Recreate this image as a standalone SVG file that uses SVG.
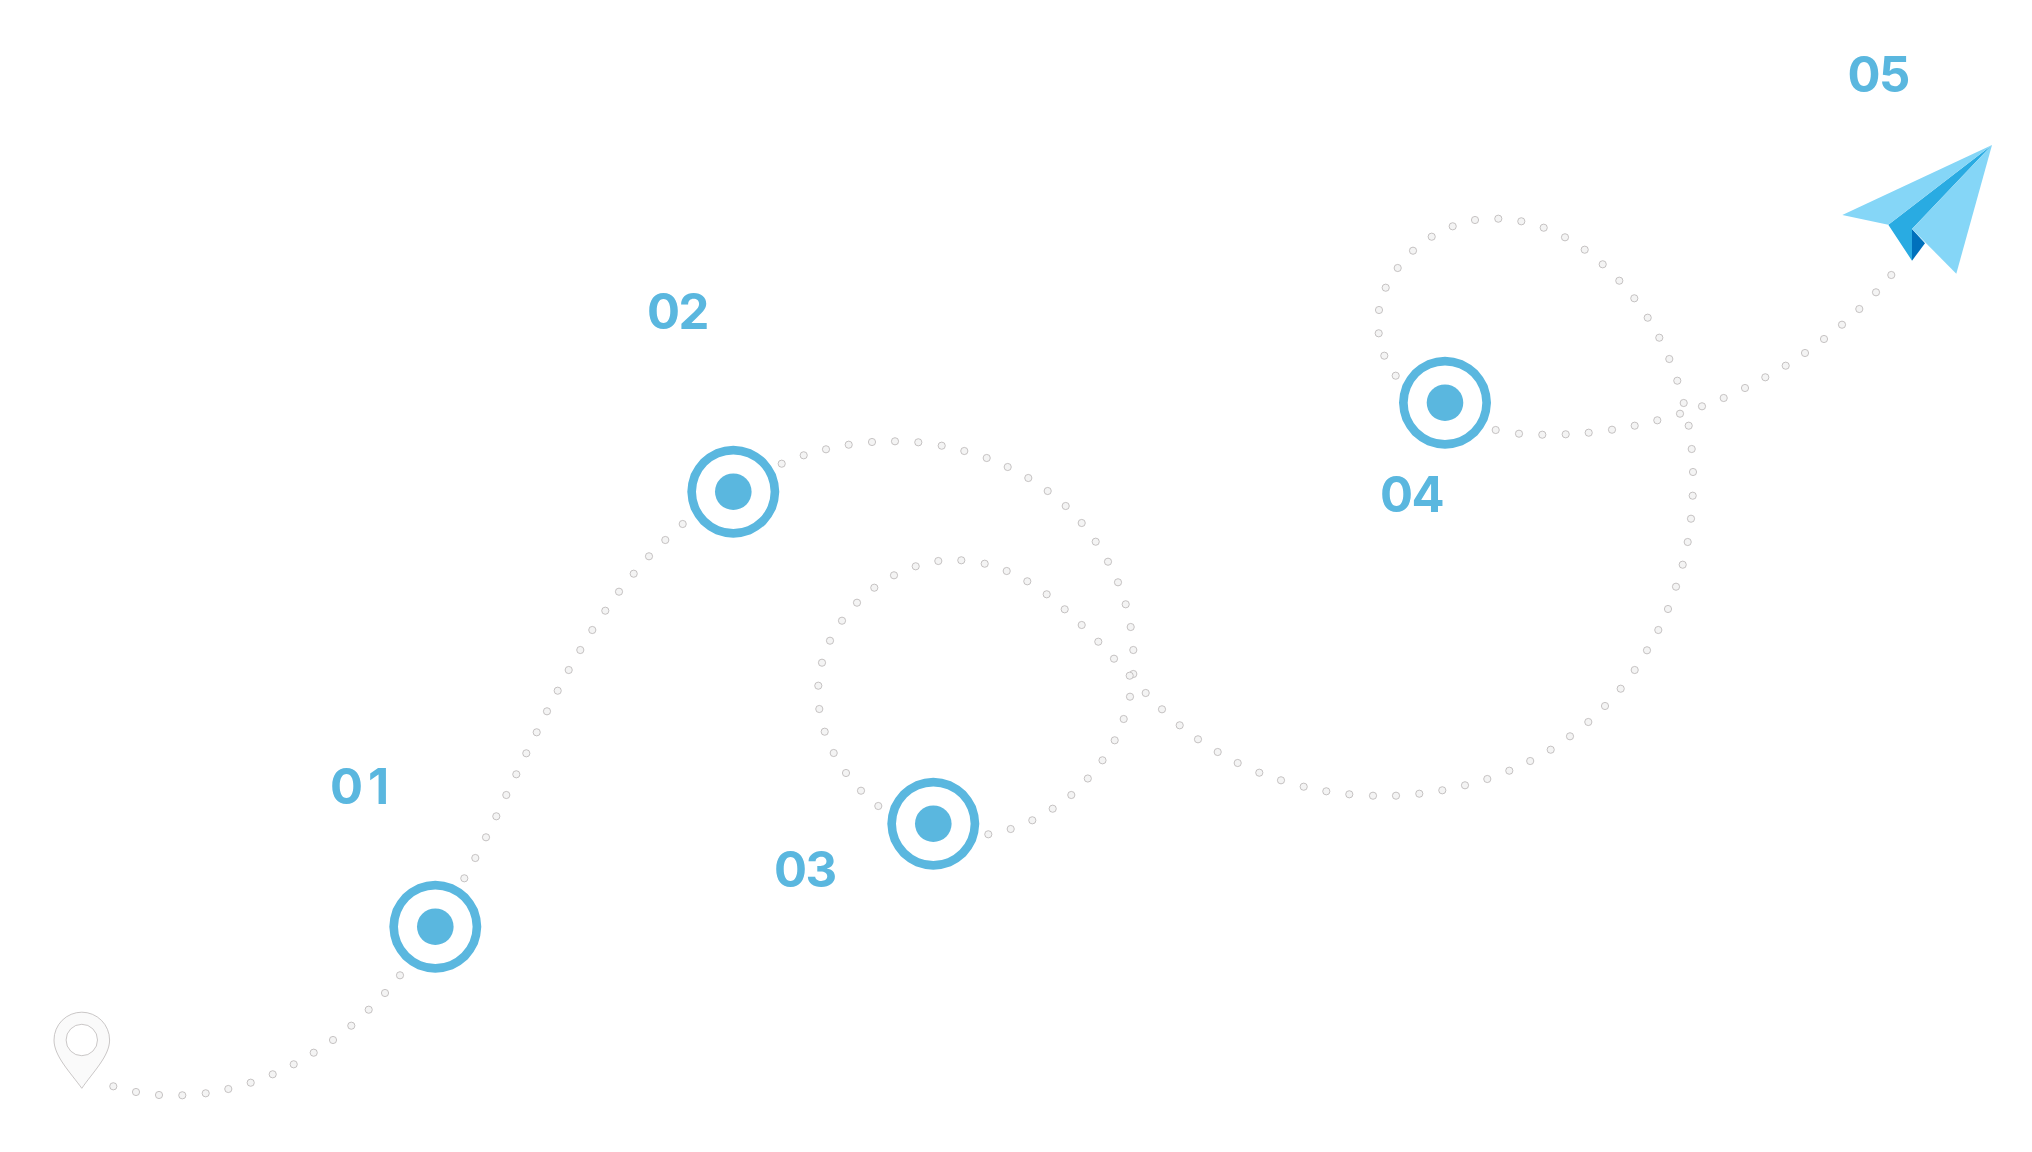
<svg xmlns="http://www.w3.org/2000/svg" xmlns:xlink="http://www.w3.org/1999/xlink" width="2032" height="1152" viewBox="0 0 2032 1152">
<style>
.lbl{font-family:"Inter","Liberation Sans",sans-serif;font-weight:700;font-size:49px;letter-spacing:-1.5px;fill:#5ab7df}
.pin{fill:#fafafa;stroke:#bdb9b9;stroke-width:.8}
.lt{fill:#85d6f7}.md{fill:#29abe2}.dk{fill:#0071bc}
</style>
<defs>
<circle id="d" r="3.6" fill="#f4f4f4" stroke="#b9b5b5" stroke-width=".8"/>
<g id="ring">
<path fill="#5ab7df" fill-rule="evenodd" d="M0-46A56 56 0 0 1 17.6-42.5A56 56 0 0 1 32.5-32.5A56 56 0 0 1 42.5-17.6A56 56 0 0 1 46 0A56 56 0 0 1 42.5 17.6A56 56 0 0 1 32.5 32.5A56 56 0 0 1 17.6 42.5A56 56 0 0 1 0 46A56 56 0 0 1-17.6 42.5A56 56 0 0 1-32.5 32.5A56 56 0 0 1-42.5 17.6A56 56 0 0 1-46 0A56 56 0 0 1-42.5-17.6A56 56 0 0 1-32.5-32.5A56 56 0 0 1-17.6-42.5A56 56 0 0 1 0-46ZM0-37.3A37.3 37.3 0 1 0 0 37.3A37.3 37.3 0 1 0 0-37.3Z"/>
<circle r="18.3" fill="#5ab7df"/>
</g>
</defs>
<rect width="2032" height="1152" fill="#fff"/>
<g id="connectors">
<g id="path-start-01">
<use href="#d" x="113.3" y="1086.3"/><use href="#d" x="136" y="1092"/><use href="#d" x="159" y="1095"/><use href="#d" x="182.3" y="1095.3"/><use href="#d" x="205.7" y="1093.3"/><use href="#d" x="228.3" y="1089"/><use href="#d" x="250.7" y="1082.7"/><use href="#d" x="272.7" y="1074.3"/><use href="#d" x="293.7" y="1064.3"/><use href="#d" x="313.7" y="1052.7"/><use href="#d" x="333" y="1040"/><use href="#d" x="351.3" y="1025.7"/><use href="#d" x="368.7" y="1009.7"/><use href="#d" x="385" y="993"/><use href="#d" x="400" y="975.3"/>
</g>
<g id="path-01-02">
<use href="#d" x="464.3" y="878.3"/><use href="#d" x="475.3" y="858"/><use href="#d" x="486" y="837.3"/><use href="#d" x="496.3" y="816.3"/><use href="#d" x="506.3" y="795"/><use href="#d" x="516.3" y="774.3"/><use href="#d" x="526.3" y="753.3"/><use href="#d" x="536.7" y="732.3"/><use href="#d" x="547" y="711.3"/><use href="#d" x="557.7" y="690.7"/><use href="#d" x="568.7" y="670"/><use href="#d" x="580.3" y="650"/><use href="#d" x="592.3" y="630"/><use href="#d" x="605.3" y="610.7"/><use href="#d" x="619" y="591.7"/><use href="#d" x="633.7" y="573.7"/><use href="#d" x="649" y="556.3"/><use href="#d" x="665.3" y="540"/><use href="#d" x="682.7" y="524"/>
</g>
<g id="path-02-03">
<use href="#d" x="781.7" y="463.7"/><use href="#d" x="803.7" y="455.3"/><use href="#d" x="826" y="449.3"/><use href="#d" x="848.7" y="444.7"/><use href="#d" x="872" y="442"/><use href="#d" x="895" y="441.3"/><use href="#d" x="918.3" y="442.3"/><use href="#d" x="941.7" y="445.7"/><use href="#d" x="964.3" y="451"/><use href="#d" x="986.7" y="458"/><use href="#d" x="1007.7" y="467"/><use href="#d" x="1028.3" y="478"/><use href="#d" x="1047.7" y="491"/><use href="#d" x="1065.7" y="506"/><use href="#d" x="1081.7" y="523"/><use href="#d" x="1095.7" y="541.7"/><use href="#d" x="1108" y="561.7"/><use href="#d" x="1118" y="582.3"/><use href="#d" x="1125.7" y="604.3"/><use href="#d" x="1130.7" y="627"/><use href="#d" x="1133.3" y="650"/><use href="#d" x="1133.3" y="674"/><use href="#d" x="1130" y="696.7"/><use href="#d" x="1123.7" y="719"/><use href="#d" x="1114.7" y="740.3"/><use href="#d" x="1102.5" y="760.3"/><use href="#d" x="1087.8" y="778.5"/><use href="#d" x="1071.3" y="795"/><use href="#d" x="1052.7" y="808.7"/><use href="#d" x="1032.3" y="820.3"/><use href="#d" x="1010.7" y="829"/><use href="#d" x="988.3" y="834.3"/>
</g>
<g id="path-03-04">
<use href="#d" x="878.3" y="806"/><use href="#d" x="861" y="790.7"/><use href="#d" x="846" y="773"/><use href="#d" x="833.7" y="753"/><use href="#d" x="824.7" y="731.7"/><use href="#d" x="819.3" y="709"/><use href="#d" x="818.3" y="685.7"/><use href="#d" x="822" y="662.7"/><use href="#d" x="830" y="640.7"/><use href="#d" x="842" y="620.7"/><use href="#d" x="857" y="602.7"/><use href="#d" x="874.3" y="587.7"/><use href="#d" x="894" y="575.3"/><use href="#d" x="915.7" y="566.3"/><use href="#d" x="938.3" y="561"/><use href="#d" x="961.3" y="560.3"/><use href="#d" x="984.7" y="563.7"/><use href="#d" x="1006.7" y="571"/><use href="#d" x="1027.3" y="581.3"/><use href="#d" x="1046.7" y="594.3"/><use href="#d" x="1064.7" y="609.3"/><use href="#d" x="1081.7" y="625"/><use href="#d" x="1098.3" y="641.7"/><use href="#d" x="1114" y="658.7"/><use href="#d" x="1129.7" y="675.7"/><use href="#d" x="1145.7" y="693"/><use href="#d" x="1162" y="709.3"/><use href="#d" x="1179.7" y="725.3"/><use href="#d" x="1198" y="739.3"/><use href="#d" x="1217.7" y="752"/><use href="#d" x="1237.7" y="763"/><use href="#d" x="1259.3" y="772.7"/><use href="#d" x="1281" y="780.3"/><use href="#d" x="1303.7" y="786.7"/><use href="#d" x="1326.3" y="791.3"/><use href="#d" x="1349.3" y="794.3"/><use href="#d" x="1373" y="795.7"/><use href="#d" x="1396" y="795.7"/><use href="#d" x="1419.3" y="793.7"/><use href="#d" x="1442.3" y="790.3"/><use href="#d" x="1465" y="785.3"/><use href="#d" x="1487.3" y="779"/><use href="#d" x="1509.3" y="770.7"/><use href="#d" x="1530.2" y="761"/><use href="#d" x="1550.7" y="749.7"/><use href="#d" x="1570" y="736.3"/><use href="#d" x="1588.3" y="722"/><use href="#d" x="1605" y="706"/><use href="#d" x="1620.7" y="688.7"/><use href="#d" x="1634.7" y="670"/><use href="#d" x="1647" y="650.3"/><use href="#d" x="1658.3" y="630"/><use href="#d" x="1668" y="609"/><use href="#d" x="1676" y="586.7"/><use href="#d" x="1682.7" y="564.7"/><use href="#d" x="1687.7" y="542"/><use href="#d" x="1691" y="518.7"/><use href="#d" x="1692.7" y="495.7"/><use href="#d" x="1693" y="472"/><use href="#d" x="1691.7" y="449"/><use href="#d" x="1688.7" y="425.7"/><use href="#d" x="1683.7" y="403"/><use href="#d" x="1677.3" y="380.7"/><use href="#d" x="1669.3" y="359"/><use href="#d" x="1659.3" y="337.7"/><use href="#d" x="1647.7" y="317.7"/><use href="#d" x="1634.3" y="298.3"/><use href="#d" x="1619.3" y="280.7"/><use href="#d" x="1602.7" y="264.3"/><use href="#d" x="1584.7" y="249.7"/><use href="#d" x="1565" y="237.3"/><use href="#d" x="1543.7" y="227.7"/><use href="#d" x="1521.3" y="221.3"/><use href="#d" x="1498.3" y="218.7"/><use href="#d" x="1475" y="220"/><use href="#d" x="1452.7" y="226.3"/><use href="#d" x="1431.7" y="236.7"/><use href="#d" x="1413" y="250.7"/><use href="#d" x="1397.7" y="268"/><use href="#d" x="1385.7" y="287.7"/><use href="#d" x="1379" y="310"/><use href="#d" x="1378.7" y="333.3"/><use href="#d" x="1384.3" y="355.7"/><use href="#d" x="1395.7" y="375.7"/>
</g>
<g id="path-04-05">
<use href="#d" x="1495.7" y="430"/><use href="#d" x="1519" y="433.7"/><use href="#d" x="1542.3" y="434.7"/><use href="#d" x="1565.7" y="434.3"/><use href="#d" x="1588.7" y="432.7"/><use href="#d" x="1612" y="429.7"/><use href="#d" x="1634.7" y="425.7"/><use href="#d" x="1657.3" y="420.3"/><use href="#d" x="1680" y="413.7"/><use href="#d" x="1702" y="406.3"/><use href="#d" x="1723.7" y="398"/><use href="#d" x="1745" y="388"/><use href="#d" x="1765.3" y="377.3"/><use href="#d" x="1785.7" y="365.7"/><use href="#d" x="1805" y="353"/><use href="#d" x="1824" y="339"/><use href="#d" x="1842" y="324.7"/><use href="#d" x="1859.3" y="309"/><use href="#d" x="1876" y="292.3"/><use href="#d" x="1891.3" y="275"/>
</g>
</g>
<g id="start-pin">
<path class="pin" d="M81.8 1088.3C70 1072 54 1056 54 1040A27.8 27.8 0 1 1 109.6 1040C109.6 1056 93 1072 81.8 1088.3Z"/>
<circle class="pin" cx="81.8" cy="1040" r="15.7" style="fill:#fff"/>
</g>
<g id="node-01"><use href="#ring" x="435.3" y="926.7"/><text class="lbl" x="330" y="804" style="letter-spacing:5px">01</text></g>
<g id="node-02"><use href="#ring" x="733.3" y="491.7"/><text class="lbl" x="647" y="328.5">02</text></g>
<g id="node-03"><use href="#ring" x="933.3" y="823.7"/><text class="lbl" x="774" y="886.5">03</text></g>
<g id="node-04"><use href="#ring" x="1445" y="402.7"/><text class="lbl" x="1380" y="512">04</text></g>
<g id="node-05">
<text class="lbl" x="1847.5" y="92">05</text>
<polygon class="dk" points="1912,229 1912,260.7 1925,243.3"/>
<polygon class="md" points="1992,145 1888.3,224.7 1912,260.7 1912,229"/>
<polygon class="lt" points="1992,145 1842.3,215 1888.3,224.7"/>
<polygon class="lt" points="1992,145 1912,229 1956.3,273.7"/>
</g>
</svg>
